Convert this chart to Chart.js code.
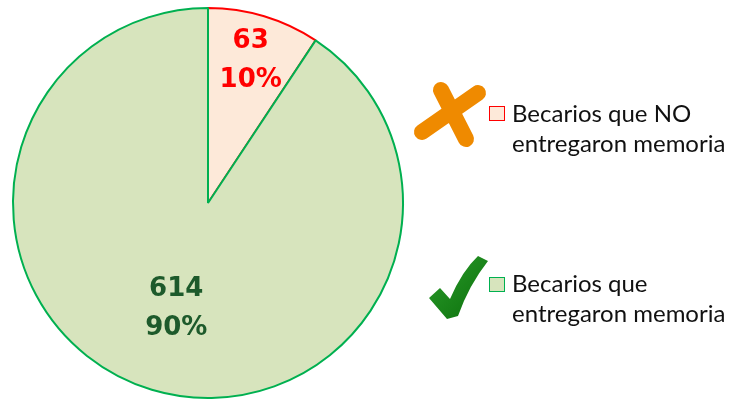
<!DOCTYPE html>
<html>
<head>
<meta charset="utf-8">
<script src="https://cdn.jsdelivr.net/npm/chart.js@4.4.1/dist/chart.umd.min.js"></script>
<style>
  html, body { margin: 0; padding: 0; background: #ffffff; }
  #wrap { position: relative; width: 737px; height: 400px; overflow: hidden; }
  #wrap canvas { position: absolute; left: 0; top: 0; }
  .leg { position: absolute; left: 512px; font-family: Lato, "Open Sans", sans-serif; font-size: 24px; line-height: 30px; color: #111; white-space: nowrap; }
  .box { position: absolute; width: 14px; height: 13px; border-width: 1px; border-style: solid; }
</style>
</head>
<body>
<div id="wrap">
  <canvas id="c" width="737" height="400"></canvas>
  <div class="box" id="box0" style="left:489px; top:106px;"></div>
  <div class="leg" id="leg0" style="top:98px;"></div>
  <div class="box" id="box1" style="left:489px; top:277px;"></div>
  <div class="leg" id="leg1" style="top:268px;"></div>
</div>
<script>
const categories = ["Becarios que NO entregaron memoria", "Becarios que entregaron memoria"];
const legendLines = [["Becarios que NO", "entregaron memoria"], ["Becarios que", "entregaron memoria"]];
const values = [63, 614];
const percentLabels = ["10%", "90%"];
const fillColors = ["#fde9d9", "#d7e4bd"];
const edgeColors = ["#ff0000", "#00b050"];
const labelColors = ["#ff0000", "#1d5a2b"];
const labelRadius = [0.76, 0.565];

for (let i = 0; i < categories.length; i++) {
  document.getElementById('leg' + i).innerHTML = legendLines[i].join('<br>');
  const b = document.getElementById('box' + i);
  b.style.background = fillColors[i];
  b.style.borderColor = edgeColors[i];
}

const labelPlugin = {
  id: 'sliceLabels',
  afterDatasetsDraw(chart) {
    const ctx = chart.ctx;
    const meta = chart.getDatasetMeta(0);
    ctx.save();
    ctx.font = 'bold 26px "DejaVu Sans", Verdana, sans-serif';
    ctx.textAlign = 'center';
    ctx.textBaseline = 'middle';
    meta.data.forEach((arc, i) => {
      const p = arc.getProps(['x', 'y', 'startAngle', 'endAngle', 'outerRadius'], true);
      const mid = (p.startAngle + p.endAngle) / 2;
      const r = p.outerRadius * labelRadius[i];
      const x = p.x + Math.cos(mid) * r;
      const y = p.y + Math.sin(mid) * r;
      ctx.fillStyle = labelColors[i];
      ctx.fillText(String(values[i]), x, y - 19.5);
      ctx.fillText(percentLabels[i], x, y + 19.5);
    });
    ctx.restore();
  },
  afterDraw(chart) {
    const ctx = chart.ctx;
    ctx.save();
    // orange X icon
    ctx.strokeStyle = '#ef8a00';
    ctx.lineCap = 'round';
    ctx.lineWidth = 16;
    ctx.beginPath();
    ctx.moveTo(441, 90); ctx.lineTo(466, 139);
    ctx.moveTo(478, 93); ctx.lineTo(422, 132);
    ctx.stroke();
    // green check icon
    const g = ctx.createLinearGradient(430, 260, 490, 318);
    g.addColorStop(0, '#2a9a2a');
    g.addColorStop(1, '#0b6f0b');
    ctx.fillStyle = g;
    ctx.beginPath();
    ctx.moveTo(429, 298);
    ctx.lineTo(440, 288);
    ctx.lineTo(450, 299);
    ctx.quadraticCurveTo(462, 271, 478, 256);
    ctx.lineTo(488, 261);
    ctx.quadraticCurveTo(469, 285, 458, 316);
    ctx.lineTo(447, 319);
    ctx.closePath();
    ctx.fill();
    ctx.restore();
  }
};

new Chart(document.getElementById('c'), {
  type: 'pie',
  data: {
    labels: categories,
    datasets: [{
      data: values,
      backgroundColor: fillColors,
      borderColor: edgeColors,
      borderWidth: 2
    }]
  },
  options: {
    responsive: false,
    animation: false,
    layout: { padding: { left: 12, top: 7, right: 333, bottom: 1 } },
    plugins: { legend: { display: false }, tooltip: { enabled: false } }
  },
  plugins: [labelPlugin]
});
</script>
</body>
</html>
